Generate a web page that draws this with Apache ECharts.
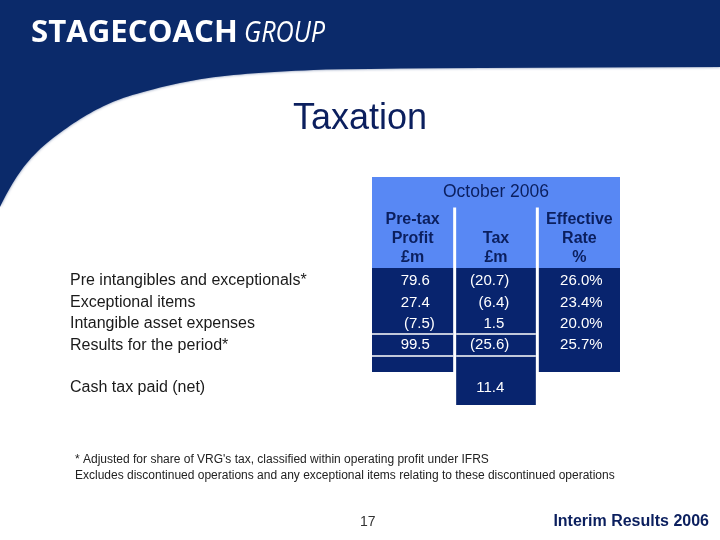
<!DOCTYPE html>
<html>
<head>
<meta charset="utf-8">
<script src="https://cdn.jsdelivr.net/npm/echarts@6.0.0/dist/echarts.min.js"></script>
<style>
  html, body { margin: 0; padding: 0; background: #fff; }
  #main { width: 720px; height: 540px; }
</style>
</head>
<body>
<div id="main"></div>
<script>
// table data
const periodLabel = 'October 2006';
const columnHeads = ['Pre-tax\nProfit\n£m', 'Tax\n£m', 'Effective\nRate\n%'];
const rowLabels = ['Pre intangibles and exceptionals*', 'Exceptional items', 'Intangible asset expenses', 'Results for the period*', '', 'Cash tax paid (net)'];
const pretaxProfit = [79.6, 27.4, -7.5, 99.5, null, null];
const tax = [-20.7, -6.4, 1.5, -25.6, null, 11.4];
const effectiveRate = [26.0, 23.4, 20.0, 25.7, null, null];
const footnotes = ["* Adjusted for share of VRG's tax, classified within operating profit under IFRS",
  'Excludes discontinued operations and any exceptional items relating to these discontinued operations'];

const NAVY = '#0b2a6a';
const CELL = '#08246e';
const LIGHT = '#5888f4';
const INK = '#0b1f5e';
const FONT = '"Liberation Sans", Arial, sans-serif';

// table layout in axis units (rows on y, columns on x)
const bandTop = -4.86, headTop = -3.46, bodyTop = -0.61;
const bodyBottom = [4.25, 5.79, 4.25];
const ruleRows = [2.48, 3.5];
const numRight = [0.70, 0.60, 0.79];

function fmt(v, pct) {
  if (pct) return v.toFixed(1) + '%';
  return v < 0 ? '(' + Math.abs(v).toFixed(1) + ')' : v.toFixed(1);
}

const valueCells = [];
[pretaxProfit, tax, effectiveRate].forEach(function (arr, c) {
  arr.forEach(function (v, r) {
    if (v !== null) valueCells.push([c, r, v]);
  });
});

// curve of the header band, smoothed through midpoints
const curvePts = [[720, 67], [360, 68], [267, 72], [200, 78], [133, 94], [100, 107], [67, 127], [33, 154], [10, 186], [0, 207]];
const bandPoly = [[0, 0], [720, 0], [720, 67]];
let prev = [720, 67];
for (let i = 1; i < curvePts.length - 1; i++) {
  const p = curvePts[i], n = curvePts[i + 1];
  const end = i === curvePts.length - 2 ? n : [(p[0] + n[0]) / 2, (p[1] + n[1]) / 2];
  for (let k = 1; k <= 10; k++) {
    const t = k / 10, u = 1 - t;
    bandPoly.push([u * u * prev[0] + 2 * u * t * p[0] + t * t * end[0], u * u * prev[1] + 2 * u * t * p[1] + t * t * end[1]]);
  }
  prev = end;
}

const chart = echarts.init(document.getElementById('main'));
const option = {
  animation: false,
  backgroundColor: '#fff',
  title: {
    text: 'Taxation',
    left: 'center',
    top: 96,
    textStyle: { fontFamily: FONT, fontSize: 36, fontWeight: 'normal', color: INK }
  },
  grid: { left: 372, right: 100, top: 174, height: 235.4, containLabel: false },
  xAxis: { type: 'value', min: 0, max: 3, show: false },
  yAxis: { type: 'value', min: -5, max: 6, inverse: true, show: false },
  graphic: [
    {
      type: 'polygon', z: -10, shape: { points: bandPoly },
      style: { fill: NAVY, shadowBlur: 3, shadowColor: 'rgba(11,42,106,0.6)' }
    },
    {
      type: 'text', left: 31, top: 18, scaleX: 1.04,
      style: {
        text: 'STAGECOACH', fill: '#fff', font: 'bold 30px "Open Sans", sans-serif',
        shadowBlur: 2, shadowColor: 'rgba(0,0,0,0.5)', shadowOffsetX: 1, shadowOffsetY: 1
      }
    },
    {
      type: 'text', left: 244, top: 19, scaleX: 0.87,
      style: {
        text: 'GROUP', fill: '#fff', font: 'italic 29px "Open Sans", sans-serif',
        shadowBlur: 2, shadowColor: 'rgba(0,0,0,0.5)', shadowOffsetX: 1, shadowOffsetY: 1
      }
    },
    {
      type: 'text', left: 75, top: 452,
      style: { text: footnotes.join('\n'), fill: '#222', font: '12px ' + FONT, lineHeight: 16 }
    },
    {
      type: 'text', left: 360, top: 515,
      style: { text: '17', fill: '#333', font: '14px ' + FONT }
    },
    {
      type: 'text', right: 11, top: 514,
      style: { text: 'Interim Results 2006', fill: INK, font: 'bold 16px ' + FONT }
    }
  ],
  series: [
    {
      // cell backgrounds
      type: 'custom',
      clip: false,
      silent: true,
      data: columnHeads.map(function (h, c) { return [c]; }),
      renderItem: function (params, api) {
        const c = api.value(0);
        const x0 = api.coord([c, 0])[0] + (c > 0 ? 1.5 : 0);
        const x1 = api.coord([c + 1, 0])[0] - (c < 2 ? 1.5 : 0);
        const yHead = api.coord([0, headTop])[1];
        const yBody = api.coord([0, bodyTop])[1];
        const yEnd = api.coord([0, bodyBottom[c]])[1];
        const children = [
          { type: 'rect', shape: { x: x0, y: yHead, width: x1 - x0, height: yBody - yHead }, style: { fill: LIGHT } },
          { type: 'rect', shape: { x: x0, y: yBody, width: x1 - x0, height: yEnd - yBody }, style: { fill: CELL } },
          {
            type: 'text', x: (x0 + x1) / 2, y: api.coord([0, -0.66])[1],
            style: { text: columnHeads[c], fill: INK, font: 'bold 16px ' + FONT, align: 'center', verticalAlign: 'bottom', lineHeight: 19 }
          }
        ];
        if (c === 0) {
          const xa = api.coord([0, 0])[0], xb = api.coord([3, 0])[0];
          const yBand = api.coord([0, bandTop])[1];
          children.unshift({ type: 'rect', shape: { x: xa, y: yBand, width: xb - xa, height: yHead - yBand + 0.5 }, style: { fill: LIGHT } });
          children.push({
            type: 'text', x: (xa + xb) / 2, y: api.coord([0, (bandTop + headTop) / 2])[1],
            style: { text: periodLabel, fill: INK, font: '17.5px ' + FONT, align: 'center', verticalAlign: 'middle' }
          });
        }
        if (c < 2) {
          ruleRows.forEach(function (r) {
            const y = api.coord([0, r])[1];
            children.push({ type: 'rect', shape: { x: x0, y: y - 0.75, width: x1 - x0, height: 1.5 }, style: { fill: '#fff' } });
          });
        }
        return { type: 'group', children: children };
      }
    },
    {
      // figures
      type: 'custom',
      clip: false,
      silent: true,
      data: valueCells,
      renderItem: function (params, api) {
        const c = api.value(0), r = api.value(1), v = api.value(2);
        const p = api.coord([c + numRight[c], r]);
        const shift = (c < 2 && v < 0) ? 5 : 0;
        return {
          type: 'text', x: p[0] + shift, y: p[1],
          style: { text: fmt(v, c === 2), fill: '#fff', font: '15px ' + FONT, align: 'right', verticalAlign: 'middle' }
        };
      }
    },
    {
      // row labels
      type: 'custom',
      clip: false,
      silent: true,
      data: rowLabels.map(function (l, r) { return [r]; }),
      renderItem: function (params, api) {
        const r = api.value(0);
        const y = api.coord([0, r])[1];
        return {
          type: 'text', x: 70, y: y,
          style: { text: rowLabels[r], fill: '#1a1a1a', font: '16px ' + FONT, align: 'left', verticalAlign: 'middle' }
        };
      }
    }
  ]
};
chart.setOption(option);
</script>
</body>
</html>
